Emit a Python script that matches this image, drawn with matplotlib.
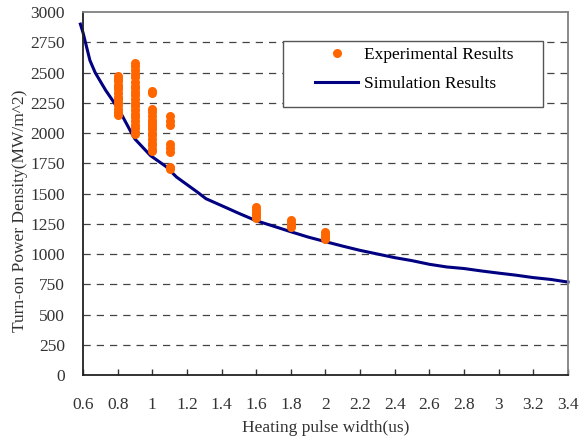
import numpy as np
import matplotlib
matplotlib.use("Agg")
import matplotlib.pyplot as plt
from matplotlib.patches import Rectangle

plt.rcParams['font.family'] = ['Liberation Serif', 'DejaVu Serif']

# measured points (pulse width, power density)
exp_08 = [2150, 2170, 2200, 2230, 2260, 2280, 2300, 2330, 2360, 2380, 2400, 2430, 2450, 2470]
exp_09 = [1990, 2010, 2040, 2070, 2100, 2130, 2160, 2190, 2220, 2250, 2280, 2310,
          2340, 2370, 2390, 2420, 2460, 2490, 2520, 2550, 2580]
exp_10 = [1850, 1870, 1900, 1920, 1950, 1980, 2000, 2030, 2060, 2080, 2110, 2140,
          2170, 2200, 2330, 2350]
exp_11 = [1700, 1720, 1840, 1880, 1910, 2070, 2100, 2140]
exp_16 = [1300, 1320, 1340, 1360, 1390]
exp_18 = [1220, 1240, 1260, 1280]
exp_20 = [1120, 1140, 1160, 1185]
exp_widths = [0.8, 0.9, 1.0, 1.1, 1.6, 1.8, 2.0]
exp_values = [exp_08, exp_09, exp_10, exp_11, exp_16, exp_18, exp_20]

# simulation curve
sim_x = [0.585, 0.6, 0.64, 0.67, 0.73, 0.78, 0.82, 0.88, 0.9, 0.99, 1.08, 1.14, 1.26,
         1.31, 1.4, 1.5, 1.6, 1.7, 1.8, 1.9, 2.0, 2.1, 2.2, 2.3, 2.4, 2.5, 2.6, 2.7,
         2.8, 2.9, 3.0, 3.1, 3.2, 3.3, 3.4]
sim_y = [2900, 2830, 2600, 2500, 2355, 2250, 2160, 2000, 1950, 1813, 1722, 1636, 1512,
         1457, 1400, 1336, 1275, 1230, 1184, 1140, 1102, 1065, 1030, 1000, 970, 945,
         915, 893, 880, 860, 842, 825, 805, 790, 768]

xs = np.concatenate([[w] * len(v) for w, v in zip(exp_widths, exp_values)])
ys = np.concatenate(exp_values)

fig = plt.figure(figsize=(5.87, 4.38), dpi=100)
ax = fig.add_axes([0.1414, 0.1438, 0.8262, 0.8288])

for y in range(250, 3000, 250):
    ax.axhline(y, color='#444444', lw=0.9, dashes=(5.8, 4.8), zorder=1)

ax.plot(xs, ys, 'o', color='#FF6600', ms=6.5, mec='none', zorder=3,
        label='Experimental Results')
ax.plot(sim_x, sim_y, '-', color='#000080', lw=2.2, zorder=2, clip_on=False,
        label='Simulation Results')

ax.set_xlim(0.6, 3.4)
ax.set_ylim(0, 3000)
ax.set_xticks(np.arange(0.6, 3.41, 0.2))
ax.set_xticklabels(['0.6', '0.8', '1', '1.2', '1.4', '1.6', '1.8', '2', '2.2', '2.4',
                    '2.6', '2.8', '3', '3.2', '3.4'])
ax.set_yticks(range(0, 3001, 250))
ax.tick_params(axis='x', direction='in', length=4, width=1, pad=16, labelsize=12.5,
               colors='#333333', labelcolor='#333333')
ax.tick_params(axis='y', length=0, pad=13, labelsize=12.5, labelcolor='#333333')

for s in ['left', 'bottom']:
    ax.spines[s].set_color('#222222')
    ax.spines[s].set_linewidth(1.3)
for s in ['top', 'right']:
    ax.spines[s].set_color('#808080')
    ax.spines[s].set_linewidth(1.3)

ax.set_xlabel('Heating pulse width(us)', fontsize=12.5, color='#333333', labelpad=5)
ax.set_ylabel('Turn-on Power Density(MW/m^2)', fontsize=12.5, color='#333333')
ax.yaxis.set_label_coords(-0.113, 0.452)

# legend box drawn like the spreadsheet one
ax.add_patch(Rectangle((0.412, 0.738), 0.536, 0.182, transform=ax.transAxes,
                       facecolor='white', edgecolor='#555555', lw=1.0, zorder=4))
leg = ax.legend(loc='upper left', bbox_to_anchor=(0.478, 0.905), fontsize=12.5,
                frameon=False, numpoints=1, handlelength=2.5, borderpad=0,
                labelspacing=0.75, handletextpad=0.35, borderaxespad=0)
leg.set_zorder(5)

fig.savefig('out.png', dpi=100)
